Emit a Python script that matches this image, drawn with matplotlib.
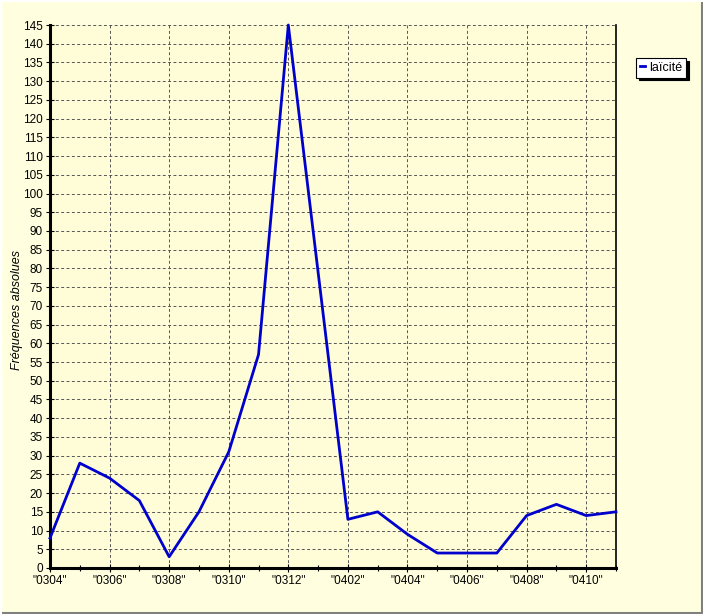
import matplotlib
matplotlib.use("Agg")
import matplotlib.pyplot as plt
from matplotlib.ticker import MultipleLocator, FixedLocator
from matplotlib.lines import Line2D

plt.rcParams["font.family"] = ["Liberation Sans", "DejaVu Sans"]

months = ["0304", "0305", "0306", "0307", "0308", "0309", "0310", "0311", "0312",
          "0401", "0402", "0403", "0404", "0405", "0406", "0407", "0408", "0409",
          "0410", "0411"]
values = [8, 28, 24, 18, 3, 15, 31, 57, 145, 79, 13, 15, 9, 4, 4, 4, 14, 17, 14, 15]
series_name = "laïcité"
y_label = "Fréquences absolues"

fig_bg = "#FFFFE0"
ax_bg = "#FFFDD8"

fig = plt.figure(figsize=(7.03, 6.14), dpi=100, facecolor=fig_bg)
ax = fig.add_axes([50/703, 46/614, 566/703, 543/614])
ax.set_facecolor(ax_bg)

x = list(range(len(months)))
ax.plot(x, values, color="#0000CC", lw=2, zorder=3, label=series_name, clip_on=False)

ax.set_xlim(0, len(months) - 1)
ax.set_ylim(0, 145)
ax.yaxis.set_major_locator(MultipleLocator(5))
major_idx = [i for i in x if i % 2 == 0]
ax.xaxis.set_major_locator(FixedLocator(major_idx))
ax.set_xticklabels(['"%s"' % months[i] for i in major_idx])
ax.xaxis.set_minor_locator(FixedLocator([i for i in x if i % 2 == 1]))

ax.grid(True, which="major", color="#555555", lw=0.7, linestyle=(0, (3, 2.5)))
ax.set_axisbelow(True)

ax.tick_params(axis="both", which="major", direction="inout", length=6, width=0.8,
               labelsize=8.5, colors="black", pad=2)
ax.tick_params(axis="x", which="minor", direction="inout", length=4, width=0.8)

for s in ["left", "bottom"]:
    ax.spines[s].set_linewidth(2.2)
    ax.spines[s].set_color("black")
ax.spines["right"].set_linewidth(1.2)
ax.spines["top"].set_visible(False)

ax.set_ylabel(y_label, fontsize=9, fontstyle="italic")
ax.yaxis.set_label_coords(-0.058, 0.475)
ax.yaxis.label.set_verticalalignment("center")

leg = fig.legend(loc="upper left", bbox_to_anchor=(636/703, 1 - 58/614),
                 frameon=True, fancybox=False,
                 shadow={"color": "black", "alpha": 1},
                 handlelength=0.45, handletextpad=0.3, borderpad=0.3,
                 fontsize=9, borderaxespad=0)
leg.get_frame().set_edgecolor("black")
leg.get_frame().set_facecolor("white")
leg.get_frame().set_alpha(1)
leg.get_frame().set_linewidth(0.8)

# 3D figure border (white top/left, gray bottom/right)
fig.add_artist(Line2D([0, 1], [0.0015, 0.0015], transform=fig.transFigure, color="#808080", lw=1.5))
fig.add_artist(Line2D([0.9985, 0.9985], [0, 1], transform=fig.transFigure, color="#808080", lw=1.5))
fig.add_artist(Line2D([0, 1], [0.9985, 0.9985], transform=fig.transFigure, color="white", lw=1.5))
fig.add_artist(Line2D([0.0015, 0.0015], [0, 1], transform=fig.transFigure, color="white", lw=1.5))

fig.savefig("out.png", dpi=100, facecolor=fig_bg)
